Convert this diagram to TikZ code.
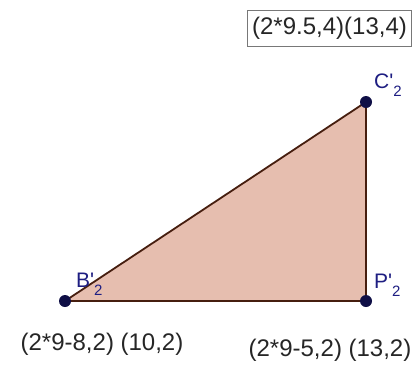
\documentclass[tikz,border=0pt]{standalone}
\usepackage{fontspec}
\newfontfamily\lab{Liberation Sans}
\definecolor{fillc}{RGB}{230,190,175}
\definecolor{edgec}{RGB}{70,30,15}
\definecolor{ptc}{RGB}{15,15,70}
\definecolor{labc}{RGB}{30,30,130}
\definecolor{boxc}{RGB}{120,120,120}
\newcommand{\sublab}[1]{#1'\raisebox{-8pt}{\fontsize{15}{15}\selectfont 2}}
\tikzset{
  pt/.style={circle,fill=ptc,inner sep=0pt,minimum size=12pt},
  ptlab/.style={text=labc,inner sep=0pt,font=\lab\fontsize{21}{23}\selectfont,anchor=base west},
  coordtext/.style={inner sep=0pt,font=\lab\fontsize{24}{27}\selectfont,text=black!85},
  edge/.style={draw=edgec,line width=1.8pt}
}
\begin{document}
\begin{tikzpicture}[x=1pt,y=-1pt]
\useasboundingbox[fill=white] (0,0) rectangle (419,368);
\coordinate (B) at (65,301);
\coordinate (P) at (366,301);
\coordinate (C) at (366,102);
\fill[fillc] (B) -- (P) -- (C) -- cycle;
\draw[edge] (B) -- (P);
\draw[edge] (P) -- (C);
\draw[edge] (C) -- (B);
\node[pt] (nB) at (B) {};
\node[pt] (nP) at (P) {};
\node[pt] (nC) at (C) {};
\node[ptlab] (lB) at (76,287) {\sublab{B}};
\node[ptlab] (lC) at (374,88) {\sublab{C}};
\node[ptlab] (lP) at (374,288) {\sublab{P}};
\node[coordtext,draw=boxc,line width=1.2pt,inner xsep=5pt,inner ysep=7pt] (box) at (329.5,28.5) {(2*9.5,4)(13,4)};
\node[coordtext] (tB) at (102,344) {(2*9-8,2) (10,2)};
\node[coordtext] (tP) at (330,350) {(2*9-5,2) (13,2)};
\end{tikzpicture}
\end{document}
